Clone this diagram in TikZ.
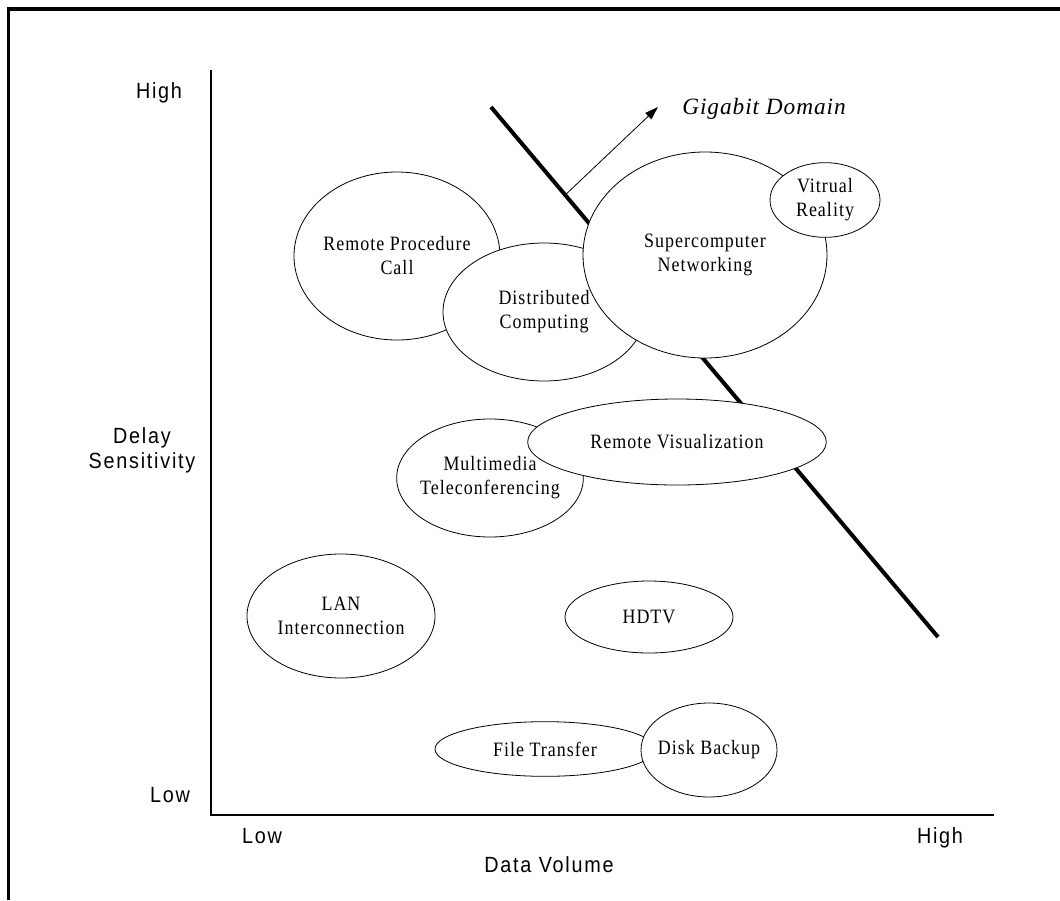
\documentclass[tikz,border=0pt]{standalone}
\usepackage{fontspec}
\setmainfont{Liberation Serif}
\setsansfont{Liberation Sans}
\usetikzlibrary{shapes.geometric,arrows.meta}
\begin{document}
\begin{tikzpicture}[x=0.75pt,y=-0.75pt,
  app/.style={ellipse,draw,fill=white,line width=0.6pt,inner sep=0pt},
  apptext/.style={align=center,inner sep=0pt,
    font=\addfontfeatures{FakeStretch=0.88,LetterSpace=5}\fontsize{15.3}{18}\selectfont},
  axlabel/.style={font=\sffamily\addfontfeatures{FakeStretch=0.9,LetterSpace=8}\fontsize{16.5}{18.75}\selectfont,
    align=center,inner sep=0pt,anchor=base}]
\useasboundingbox (0,0) rectangle (1060,900);

% page frame (top and left edges)
\draw[line width=2.5pt] (8.5,900) -- (8.5,9) -- (1060,9);

% axes
\coordinate (ytop) at (211,70);
\coordinate (origin) at (211,815);
\coordinate (xend) at (994,815);
\draw[line width=0.8pt] (ytop) -- (origin) -- (xend);

% boundary of the gigabit domain
\coordinate (bstart) at (491,107);
\coordinate (bend) at (938,637);
\draw[line width=3pt] (bstart) -- coordinate[pos=0.166] (astart) (bend);
\coordinate (aend) at (658,107);
\draw[line width=0.6pt,-{Triangle[length=10pt,width=6.5pt]}] (astart) -- (aend);
\node[font=\itshape\addfontfeatures{LetterSpace=4}\fontsize{17.5}{21}\selectfont,anchor=base west,inner sep=0pt]
  (gig) at (682,114) {Gigabit Domain};

% applications (sizes in pt: pixel size x 0.75)
\node[app,minimum width=154.5pt,minimum height=126pt] (rpc) at (397,256) {};
\node[apptext] at (rpc) {Remote Procedure\\Call};
\node[app,minimum width=151.5pt,minimum height=103.5pt] (dist) at (544,312) {};
\node[apptext] at (dist) {Distributed\\Computing};
\node[app,minimum width=183pt,minimum height=154.5pt] (super) at (705,255) {};
\node[apptext] at (super) {Supercomputer\\Networking};
\node[app,minimum width=82.5pt,minimum height=56pt] (vr) at (825,200) {};
\node[apptext] at (vr) {Vitrual\\Reality};
\node[app,minimum width=140pt,minimum height=88.5pt] (multi) at (490,478) {};
\node[apptext] at (multi) {Multimedia\\Teleconferencing};
\node[app,minimum width=224pt,minimum height=64.5pt] (rviz) at (677,442) {};
\node[apptext] at (rviz) {Remote Visualization};
\node[app,minimum width=141pt,minimum height=93pt] (lan) at (341,616) {};
\node[apptext] at (lan) {LAN\\Interconnection};
\node[app,minimum width=126pt,minimum height=54pt] (hdtv) at (649,617) {};
\node[apptext] at (hdtv) {HDTV};
\node[app,minimum width=165pt,minimum height=41pt] (ft) at (545,749) {};
\node[apptext] at (ft) {File Transfer};
\node[app,minimum width=102pt,minimum height=70.5pt] (disk) at (709,750) {};
\node[apptext] at (disk) {Disk Backup};

% axis labels (base anchor of a two-line label is the last line)
\node[axlabel] (yhigh) at (159,98) {High};
\node[axlabel] (ylow) at (170,802) {Low};
\node[axlabel] (ylab) at (142,468) {Delay\\Sensitivity};
\node[axlabel] (xlow) at (262,843) {Low};
\node[axlabel] (xhigh) at (940,843) {High};
\node[axlabel] (xlab) at (549,872) {Data Volume};
\end{tikzpicture}
\end{document}
